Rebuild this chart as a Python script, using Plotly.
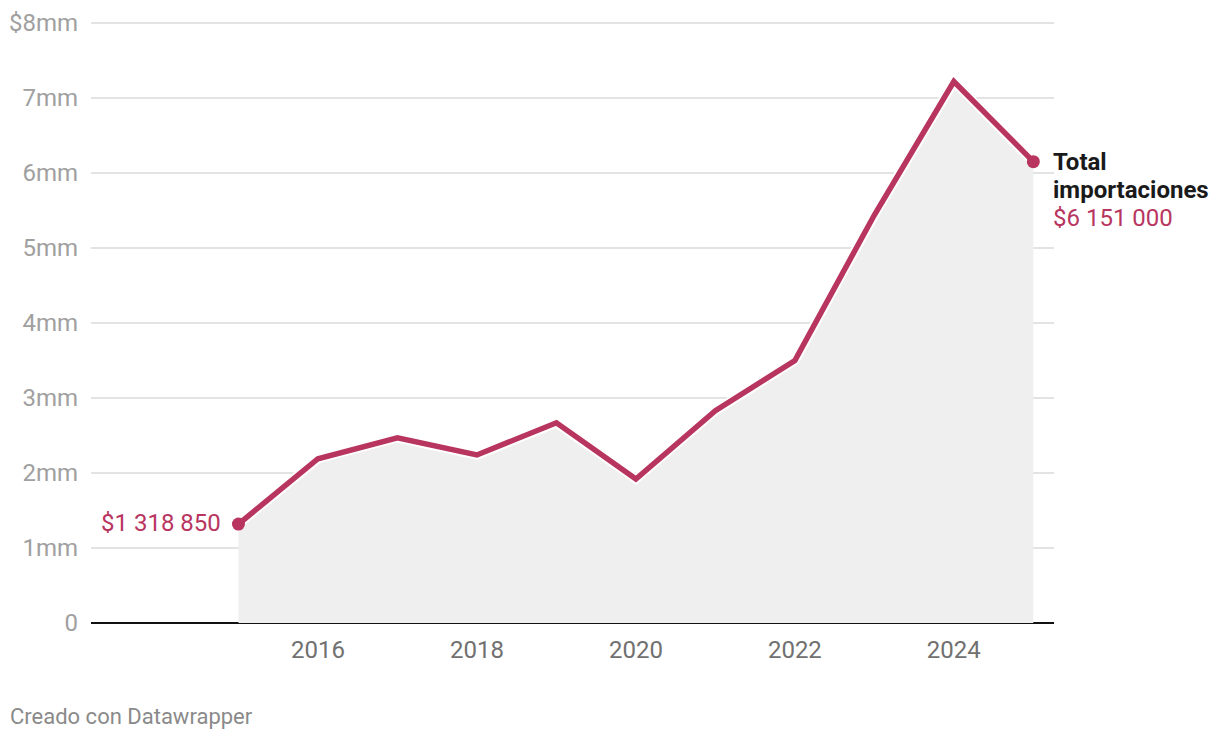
import plotly.graph_objects as go

years = [2015, 2016, 2017, 2018, 2019, 2020, 2021, 2022, 2023, 2024, 2025]
values = [1.31885, 2.19, 2.47, 2.24, 2.67, 1.92, 2.83, 3.50, 5.44, 7.22, 6.151]
y_ticks = [0, 1, 2, 3, 4, 5, 6, 7, 8]
y_tick_labels = ["0", "1mm", "2mm", "3mm", "4mm", "5mm", "6mm", "7mm", "$8mm"]
x_ticks = [2016, 2018, 2020, 2022, 2024]
series_title = ["Total", "importaciones"]
first_label = "$1 318 850"
last_label = "$6 151 000"

LINE = "#b8355f"
FONT = "Roboto"

fig = go.Figure()
fig.add_trace(go.Scatter(x=years, y=values, mode="lines", fill="tozeroy",
                         fillcolor="#efefef", line=dict(color="white", width=9.5),
                         hoverinfo="skip", showlegend=False))
fig.add_trace(go.Scatter(x=years, y=values, mode="lines",
                         line=dict(color=LINE, width=5.5), showlegend=False))
fig.add_trace(go.Scatter(x=[years[0], years[-1]], y=[values[0], values[-1]], mode="markers",
                         marker=dict(color=LINE, size=13), showlegend=False))

fig.add_annotation(x=years[0], y=values[0], text=first_label, showarrow=False,
                   xanchor="right", yanchor="middle", xshift=-15, yshift=1,
                   font=dict(family=FONT, size=24, color=LINE))
for i, (txt, col, bold) in enumerate([(series_title[0], "#1a1a1a", True),
                                       (series_title[1], "#1a1a1a", True),
                                       (last_label, LINE, False)]):
    fig.add_annotation(x=years[-1], y=values[-1], text=("<b>%s</b>" % txt) if bold else txt,
                       showarrow=False, xanchor="left", yanchor="middle", align="left",
                       xshift=18, yshift=-28 * i,
                       font=dict(family=FONT, size=24, color=col))

fig.add_annotation(x=(0 - 83) / (1046 - 83), y=(615 - 708) / (615 - 11), xref="paper", yref="paper",
                   text="Creado con Datawrapper", showarrow=False, xanchor="left", yanchor="middle",
                   font=dict(family=FONT, size=22, color="#8a8a8a"))

fig.update_layout(
    width=1212, height=732,
    margin=dict(l=83, r=166, t=11, b=117, autoexpand=False),
    plot_bgcolor="white", paper_bgcolor="white",
    font=dict(family=FONT),
    xaxis=dict(range=[2013.145, 2025.26], tickvals=x_ticks, showgrid=False,
               zeroline=False, showline=False, ticks="", automargin=False,
               tickfont=dict(size=24, color="#707070"), ticklabelstandoff=10),
    yaxis=dict(range=[0, 8.0533], tickvals=y_ticks, ticktext=y_tick_labels,
               showgrid=True, gridcolor="#e3e3e3", gridwidth=1.5,
               zeroline=True, zerolinecolor="#111111", zerolinewidth=2,
               ticks="", automargin=False,
               tickfont=dict(size=24, color="#a0a0a0"), ticklabelstandoff=12),
)

fig.write_html("out.html")
